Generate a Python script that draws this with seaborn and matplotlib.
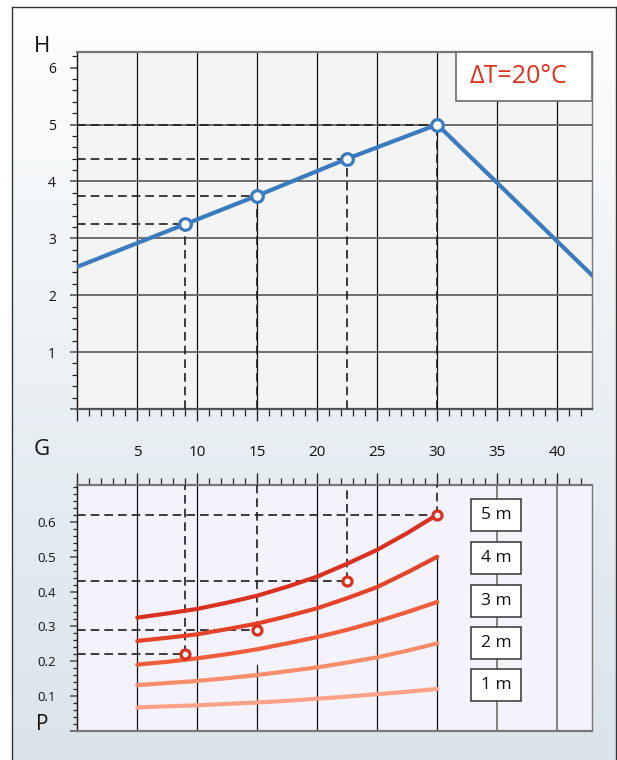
import numpy as np
import pandas as pd
import matplotlib
matplotlib.use("Agg")
import matplotlib.pyplot as plt
import matplotlib.transforms as mtransforms
from matplotlib.patches import Rectangle
from matplotlib.ticker import MultipleLocator, FixedLocator, NullFormatter
from matplotlib.colors import LinearSegmentedColormap
import seaborn as sns

sns.set_style("white")
plt.rcParams["font.family"] = ["Open Sans", "DejaVu Sans"]

# Pump curve: flow G versus head H
g_line = [0, 9, 15, 22.5, 30, 43]
h_line = [2.5, 3.25, 3.75, 4.4, 5.0, 2.33]

# Operating points read across both panels
g_pts = [9, 15, 22.5, 30]
h_pts = [3.25, 3.75, 4.4, 5.0]
p_pts = [0.22, 0.29, 0.43, 0.62]

# Power P versus flow G for each head
g_curve = [5, 7.5, 10, 12.5, 15, 17.5, 20, 22.5, 25, 27.5, 30]
p_1m = [0.067, 0.070, 0.073, 0.077, 0.081, 0.086, 0.092, 0.098, 0.105, 0.112, 0.120]
p_2m = [0.131, 0.137, 0.143, 0.151, 0.160, 0.171, 0.182, 0.196, 0.211, 0.230, 0.251]
p_3m = [0.190, 0.198, 0.208, 0.220, 0.234, 0.251, 0.269, 0.290, 0.314, 0.341, 0.370]
p_4m = [0.258, 0.267, 0.277, 0.292, 0.308, 0.329, 0.352, 0.381, 0.413, 0.455, 0.500]
p_5m = [0.325, 0.337, 0.350, 0.368, 0.388, 0.414, 0.443, 0.480, 0.520, 0.568, 0.621]
head_labels = ["1 m", "2 m", "3 m", "4 m", "5 m"]
head_label_y = [0.130, 0.252, 0.374, 0.497, 0.619]

x_ticklabels = ["5", "10", "15", "20", "25", "30", "35", "40"]
h_ticklabels = ["1", "2", "3", "4", "5", "6"]
p_ticklabels = ["0.1", "0.2", "0.3", "0.4", "0.5", "0.6"]

curves = pd.DataFrame({
    "G": g_curve * 5,
    "P": p_1m + p_2m + p_3m + p_4m + p_5m,
    "head": sum([[h] * len(g_curve) for h in head_labels], []),
})
palette = {"1 m": "#fca286", "2 m": "#f88d6a", "3 m": "#ef5d3a",
           "4 m": "#e4432a", "5 m": "#d9301f"}

W, H = 617, 760
fig = plt.figure(figsize=(W / 100, H / 100), dpi=100)
fig.patch.set_facecolor("white")

# Framed panel with a soft vertical gradient
bg = fig.add_axes([12 / W, 0, 604 / W, 753 / H], zorder=-10)
grad = LinearSegmentedColormap.from_list("bg", ["#fefefe", "#eaf0f4", "#dae4eb"])
bg.imshow(np.linspace(0, 1, 256)[:, None], aspect="auto", cmap=grad,
          extent=[0, 1, 0, 1])
bg.set_xlim(0, 1)
bg.set_ylim(0, 1)
bg.set_xticks([])
bg.set_yticks([])
for side in ["left", "top", "right"]:
    bg.spines[side].set_color("#333333")
    bg.spines[side].set_linewidth(1.0)
bg.spines["bottom"].set_visible(False)

left = 77.3 / W
width = (591.7 - 77.3) / W
ax1 = fig.add_axes([left, 1 - 409 / H, width, (409 - 52.3) / H])
ax2 = fig.add_axes([left, 1 - 730.7 / H, width, (730.7 - 484.7) / H])

XMAX = 42.87
dash_kw = dict(color="#1e1e1e", lw=1.2, dashes=(5.2, 3.0), zorder=3)

# ---------- top panel: H(G) ----------
ax1.set_facecolor("#f4f4f4")
ax1.set_xlim(0, XMAX)
ax1.set_ylim(0, 6.27)
for gx in range(5, 45, 5):
    ax1.axvline(gx, color="#111111", lw=0.9, zorder=1)
for hy in range(1, 6):
    ax1.axhline(hy, color="#6e6e6e", lw=1.4, zorder=1)
for gx, hy in zip(g_pts, h_pts):
    ax1.plot([0, gx], [hy, hy], **dash_kw)
    ax1.plot([gx, gx], [0, hy], **dash_kw)

sns.lineplot(x=g_line, y=h_line, ax=ax1, color="#3a7bbf", lw=3.0,
             zorder=4, legend=False)
sns.scatterplot(x=g_pts, y=h_pts, ax=ax1, s=70, color="white",
                edgecolor="#3a7bbf", linewidth=2.3, zorder=5, legend=False)

ax1.add_patch(Rectangle((31.6, 5.41), XMAX - 31.6, 6.27 - 5.41,
                        facecolor="white", edgecolor="#6a6a6a", lw=1.2,
                        zorder=6, clip_on=False))
ax1.text(36.8, 5.84, "ΔT=20°C", color="#e2301c", fontsize=18,
         ha="center", va="center", zorder=7)

ax1.xaxis.set_major_locator(MultipleLocator(5))
ax1.xaxis.set_minor_locator(MultipleLocator(1))
ax1.xaxis.set_major_formatter(NullFormatter())
ax1.yaxis.set_major_locator(FixedLocator([0, 1, 2, 3, 4, 5, 6]))
ax1.yaxis.set_minor_locator(MultipleLocator(0.2))
ax1.set_yticklabels([""] + h_ticklabels)
ax1.tick_params(axis="x", which="major", direction="out", length=8.6,
                width=1.0, color="#222222", bottom=True)
ax1.tick_params(axis="x", which="minor", direction="out", length=5,
                width=0.9, color="#222222", bottom=True)
ax1.tick_params(axis="y", which="major", direction="out", length=5,
                width=1.4, color="#6e6e6e", left=True, labelsize=10,
                pad=10.5, labelcolor="#111111")
ax1.tick_params(axis="y", which="minor", direction="out", length=3.6,
                width=0.9, color="#222222", left=True)
ax1.set_xlabel("")
ax1.set_ylabel("")
ax1.spines["top"].set_color("#777777")
ax1.spines["top"].set_linewidth(1.6)
ax1.spines["right"].set_color("#777777")
ax1.spines["right"].set_linewidth(1.0)
ax1.spines["left"].set_color("#111111")
ax1.spines["left"].set_linewidth(1.0)
ax1.spines["bottom"].set_color("#555555")
ax1.spines["bottom"].set_linewidth(1.6)

# ---------- bottom panel: P(G) ----------
ax2.set_facecolor("#f4f3fc")
ax2.set_xlim(0, XMAX)
ax2.set_ylim(0, 0.707)
for gx in [5, 10, 20, 25]:
    ax2.axvline(gx, color="#111111", lw=0.9, zorder=1)
ax2.plot([15, 15], [0, 0.19], color="#111111", lw=0.9, zorder=1)
ax2.plot([30, 30], [0, 0.50], color="#111111", lw=0.9, zorder=1)
for gx in [35, 40]:
    ax2.axvline(gx, color="#6e6e6e", lw=1.2, zorder=1)
for gx, py in zip(g_pts, p_pts):
    ax2.plot([0, gx], [py, py], **dash_kw)
    ax2.plot([gx, gx], [py, 0.707], **dash_kw)

sns.lineplot(data=curves, x="G", y="P", hue="head", palette=palette,
             ax=ax2, lw=3.0, zorder=4, legend=False)
sns.scatterplot(x=g_pts, y=p_pts, ax=ax2, s=42, color="white",
                edgecolor="#d9301f", linewidth=2.3, zorder=5, legend=False)

bw, bh = 4.2, 0.092
for lab, yc in zip(head_labels, head_label_y):
    ax2.add_patch(Rectangle((34.9 - bw / 2, yc - bh / 2), bw, bh,
                            facecolor="white", edgecolor="#333333", lw=1.1,
                            zorder=6))
    ax2.text(34.9, yc, lab, fontsize=12.5, ha="center", va="center",
             color="#111111", zorder=7)

ax2.xaxis.tick_top()
ax2.xaxis.set_major_locator(MultipleLocator(5))
ax2.xaxis.set_minor_locator(MultipleLocator(1))
ax2.xaxis.set_major_formatter(NullFormatter())
ax2.yaxis.set_major_locator(FixedLocator([0, 0.1, 0.2, 0.3, 0.4, 0.5, 0.6]))
ax2.yaxis.set_minor_locator(MultipleLocator(0.02))
ax2.set_yticklabels([""] + p_ticklabels)
ax2.tick_params(axis="x", which="major", direction="out", length=8.6,
                width=1.0, color="#222222", top=True, bottom=False)
ax2.tick_params(axis="x", which="minor", direction="out", length=5,
                width=0.9, color="#222222", top=True, bottom=False)
ax2.tick_params(axis="y", which="major", direction="out", length=5,
                width=1.4, color="#6e6e6e", left=True, labelsize=9.5,
                pad=10.5, labelcolor="#111111")
ax2.tick_params(axis="y", which="minor", direction="out", length=2.9,
                width=0.9, color="#222222", left=True)
ax2.set_xlabel("")
ax2.set_ylabel("")
for side in ["top", "right", "bottom"]:
    ax2.spines[side].set_color("#777777")
    ax2.spines[side].set_linewidth(1.6 if side != "right" else 1.0)
ax2.spines["left"].set_color("#111111")
ax2.spines["left"].set_linewidth(1.0)

# Shared G scale labels between the panels
lab_y = 1 - 455.7 / H
g_trans = mtransforms.blended_transform_factory(ax1.transData, fig.transFigure)
for gx, lab in zip(range(5, 45, 5), x_ticklabels):
    ax1.text(gx, lab_y, lab, transform=g_trans, ha="center", va="baseline",
             fontsize=11, color="#111111")

fig.text(42 / W, 1 - 47 / H, "H", fontsize=16, ha="center", va="center",
         color="#111111")
fig.text(42 / W, 1 - 450 / H, "G", fontsize=16, ha="center", va="center",
         color="#111111")
fig.text(42 / W, 1 - 725 / H, "P", fontsize=15, ha="center", va="center",
         color="#111111")

fig.savefig("out.png", dpi=100)
